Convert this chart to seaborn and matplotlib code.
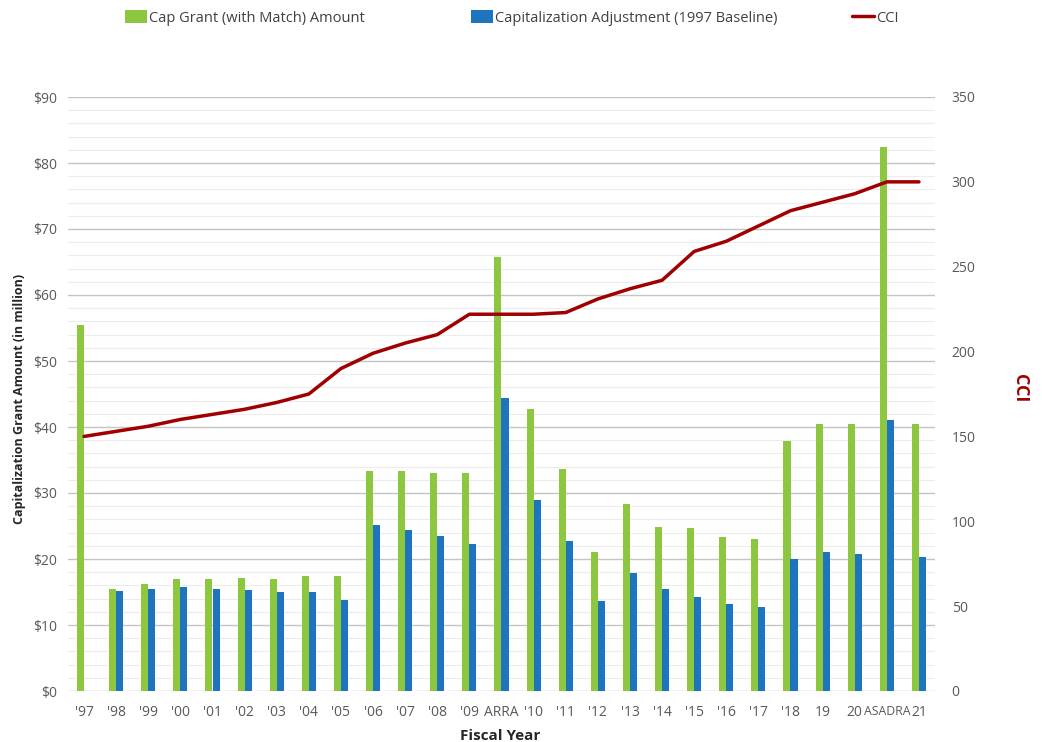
import numpy as np
import pandas as pd
import matplotlib
matplotlib.use("Agg")
import matplotlib.pyplot as plt
import seaborn as sns
from matplotlib.ticker import MultipleLocator, FuncFormatter
from matplotlib.patches import Patch
from matplotlib.lines import Line2D

years = ["'97", "'98", "'99", "'00", "'01", "'02", "'03", "'04", "'05", "'06",
         "'07", "'08", "'09", "ARRA", "'10", "'11", "'12", "'13", "'14", "'15",
         "'16", "'17", "'18", "19", "20", "ASADRA", "21"]
cap_grant = [55.5, 15.45, 16.2, 16.9, 16.9, 17.1, 16.9, 17.5, 17.5, 33.3,
             33.3, 33.0, 33.0, 65.7, 42.7, 33.7, 21.0, 28.3, 24.8, 24.7,
             23.3, 23.1, 37.9, 40.5, 40.5, 82.4, 40.5]
cap_adjust = [np.nan, 15.2, 15.5, 15.8, 15.5, 15.35, 14.95, 14.95, 13.8, 25.1,
              24.4, 23.5, 22.3, 44.4, 28.9, 22.7, 13.6, 17.9, 15.4, 14.3,
              13.2, 12.7, 20.0, 21.1, 20.7, 41.0, 20.3]
cci = [150, 153, 156, 160, 163, 166, 170, 175, 190, 199,
       205, 210, 222, 222, 222, 223, 231, 237, 242, 259,
       265, 274, 283, 288, 293, 300, 300]

series_names = ["Cap Grant (with Match) Amount", "Capitalization Adjustment (1997 Baseline)"]
GREEN = "#8DC63F"
BLUE = "#1F74BE"
RED = "#A00000"
TICK = "#595959"

sns.set_theme(style="white")
plt.rcParams['font.family'] = ['Open Sans', 'DejaVu Sans']

df = pd.DataFrame({"Year": years, series_names[0]: cap_grant, series_names[1]: cap_adjust})
long = df.melt(id_vars="Year", var_name="Series", value_name="Amount")

fig = plt.figure(figsize=(10.42, 7.42), dpi=100)
ax = fig.add_axes([68 / 1042, 1 - 691 / 742, (935 - 68) / 1042, (691 - 97) / 742])

sns.barplot(data=long, x="Year", y="Amount", hue="Series", order=years,
            hue_order=series_names, palette=[GREEN, BLUE], width=0.44,
            saturation=1, linewidth=0, ax=ax, legend=False, errorbar=None)

ax.set_xlim(-0.5, len(years) - 0.5)
ax.set_ylim(0, 90)
ax.yaxis.set_major_locator(MultipleLocator(10))
ax.yaxis.set_minor_locator(MultipleLocator(2))
ax.yaxis.set_major_formatter(FuncFormatter(lambda v, p: f"${v:.0f}"))
ax.grid(axis="y", which="major", color="#C4C4C4", linewidth=1.0)
ax.grid(axis="y", which="minor", color="#ECECEC", linewidth=0.8)
ax.set_axisbelow(True)
for s in ax.spines.values():
    s.set_visible(False)
ax.tick_params(axis="both", which="both", length=0, labelsize=10, labelcolor=TICK)
ax.tick_params(axis="y", pad=8)
ax.tick_params(axis="x", pad=10, labelsize=10)
for lbl in ax.get_xticklabels():
    if lbl.get_text() == "ASADRA":
        lbl.set_fontsize(8.8)
ax.set_xlabel("")
ax.set_ylabel("")

ax2 = ax.twinx()
sns.lineplot(x=np.arange(len(years)), y=cci, ax=ax2, color=RED, linewidth=2.5)
ax2.set_ylim(0, 350)
ax2.yaxis.set_major_locator(MultipleLocator(50))
for s in ax2.spines.values():
    s.set_visible(False)
ax2.tick_params(axis="y", length=0, labelsize=10, labelcolor=TICK, pad=12)
ax2.grid(False)
ax2.set_ylabel("")

fig.text(500 / 1042, 1 - 736 / 742, "Fiscal Year", ha="center", va="center",
         fontsize=11, fontweight="bold", color="#262626")
fig.text(20 / 1042, 1 - 399 / 742, "Capitalization Grant Amount (in million)",
         rotation=90, ha="center", va="center", fontsize=9, fontweight="bold", color="#262626")
fig.text(1020 / 1042, 1 - 388 / 742, "CCI", rotation=270, ha="center", va="center",
         fontsize=13, fontweight="bold", color=RED)

handles = [Patch(facecolor=GREEN, edgecolor="none"),
           Patch(facecolor=BLUE, edgecolor="none"),
           Line2D([0], [0], color=RED, linewidth=2.5)]
labels = series_names + ["CCI"]
legend_x = [125, 471, 852]
for h, lab, lx in zip(handles, labels, legend_x):
    leg = fig.legend([h], [lab], loc="center left", bbox_to_anchor=(lx / 1042, 1 - 18 / 742),
                     frameon=False, fontsize=10.5, handlelength=1.5, handleheight=0.9,
                     handletextpad=0.15, borderpad=0, borderaxespad=0)
    for t in leg.get_texts():
        t.set_color("#404040")

fig.savefig("out.png", dpi=100)
